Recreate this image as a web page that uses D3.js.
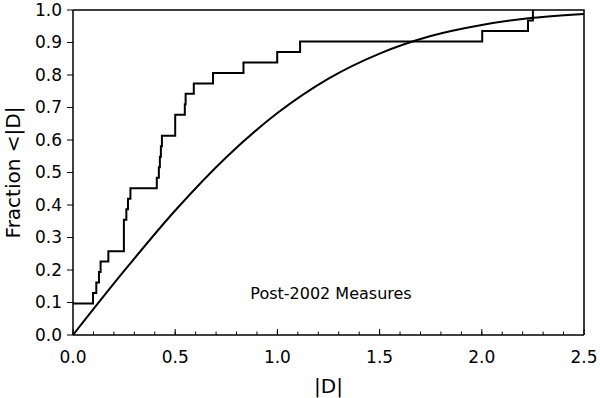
<!DOCTYPE html>
<html>
<head>
<meta charset="utf-8">
<script src="https://cdn.jsdelivr.net/npm/d3@7"></script>
<style>
  body { margin: 0; background: #fff; }
  svg { display: block; font-family: "DejaVu Sans", Verdana, sans-serif; }
</style>
</head>
<body>
<svg id="chart" width="600" height="398"></svg>
<script>
const samples = [0, 0, 0, 0.098, 0.114, 0.127, 0.135, 0.173, 0.249, 0.249, 0.249,
  0.261, 0.269, 0.281, 0.41, 0.42, 0.425, 0.43, 0.435, 0.5, 0.5, 0.547, 0.551,
  0.591, 0.685, 0.834, 0.999, 1.111, 2.002, 2.226, 2.25];

// smooth reference curve, read at a few points
const refX = [0, 0.25, 0.5, 0.75, 1.0, 1.25, 1.5, 1.75, 2.0, 2.25, 2.5];
const refY = [0, 0.197, 0.383, 0.547, 0.683, 0.789, 0.866, 0.920, 0.954, 0.976, 0.988];

const xTicks = [0, 0.5, 1.0, 1.5, 2.0, 2.5];
const yTicks = [0, 0.1, 0.2, 0.3, 0.4, 0.5, 0.6, 0.7, 0.8, 0.9, 1.0];
const label = "Post-2002 Measures";

const margin = { top: 10, right: 16, bottom: 63, left: 73 };
const width = 600, height = 398;

const x = d3.scaleLinear().domain([0, 2.5]).range([margin.left, width - margin.right]);
const y = d3.scaleLinear().domain([0, 1]).range([height - margin.bottom, margin.top]);

const svg = d3.select("#chart");

// ecdf steps
const n = samples.length;
const sorted = samples.slice().sort(d3.ascending);
const steps = [[0, sorted.filter(v => v <= 0).length / n]];
sorted.forEach((v, i) => {
  if (v <= 0) return;
  steps.push([v, i / n]);
  steps.push([v, (i + 1) / n]);
});

svg.append("path")
  .attr("d", d3.line().x(d => x(d[0])).y(d => y(d[1]))(steps))
  .attr("fill", "none")
  .attr("stroke", "#000")
  .attr("stroke-width", 2);

svg.append("path")
  .attr("d", d3.line().curve(d3.curveMonotoneX)
    .x(d => x(d)).y((d, i) => y(refY[i]))(refX))
  .attr("fill", "none")
  .attr("stroke", "#000")
  .attr("stroke-width", 2);

// frame
svg.append("path")
  .attr("d", `M${x(0)},${y(1)}H${x(2.5)}V${y(0)}`)
  .attr("fill", "none")
  .attr("stroke", "#000")
  .attr("stroke-width", 1.5);

// x axis, ticks point inward
const gx = svg.append("g").attr("transform", `translate(0,${y(0)})`);
gx.append("line").attr("x1", x(0)).attr("x2", x(2.5)).attr("stroke", "#000").attr("stroke-width", 1.5);
gx.selectAll(".minor")
  .data(d3.range(1, 25).map(i => i / 10))
  .join("line")
  .attr("x1", d => x(d)).attr("x2", d => x(d))
  .attr("y1", 0).attr("y2", -3.5)
  .attr("stroke", "#000").attr("stroke-width", 1);
gx.selectAll(".major")
  .data(xTicks)
  .join("line")
  .attr("x1", d => x(d)).attr("x2", d => x(d))
  .attr("y1", 0).attr("y2", -6)
  .attr("stroke", "#000").attr("stroke-width", 1);
gx.selectAll("text")
  .data(xTicks)
  .join("text")
  .attr("x", d => x(d))
  .attr("y", 28)
  .attr("text-anchor", "middle")
  .attr("font-size", 17)
  .text(d => d3.format(".1f")(d));

// y axis, ticks point outward
const gy = svg.append("g").attr("transform", `translate(${x(0)},0)`);
gy.append("line").attr("y1", y(0)).attr("y2", y(1)).attr("stroke", "#000").attr("stroke-width", 1.5);
gy.selectAll(".tick")
  .data(yTicks)
  .join("line")
  .attr("y1", d => y(d)).attr("y2", d => y(d))
  .attr("x1", 0).attr("x2", -6)
  .attr("stroke", "#000").attr("stroke-width", 1);
gy.selectAll("text")
  .data(yTicks)
  .join("text")
  .attr("x", -11)
  .attr("y", d => y(d))
  .attr("dy", "0.35em")
  .attr("text-anchor", "end")
  .attr("font-size", 17)
  .text(d => d3.format(".1f")(d));

svg.append("text")
  .attr("x", (x(0) + x(2.5)) / 2)
  .attr("y", 393)
  .attr("text-anchor", "middle")
  .attr("font-size", 20)
  .text("|D|");

svg.append("text")
  .attr("transform", `translate(20,${(y(0) + y(1)) / 2}) rotate(-90)`)
  .attr("text-anchor", "middle")
  .attr("font-size", 20)
  .text("Fraction <|D|");

svg.append("text")
  .attr("x", 331)
  .attr("y", 299)
  .attr("text-anchor", "middle")
  .attr("font-size", 16)
  .text(label);
</script>
</body>
</html>
